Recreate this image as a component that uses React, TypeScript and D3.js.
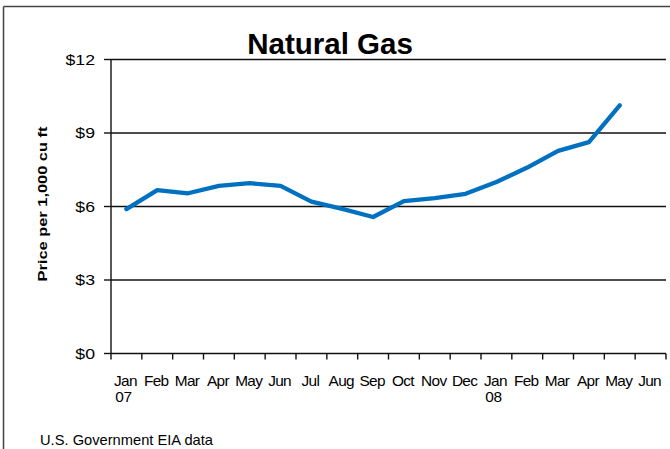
import React from "react";
import * as d3 from "d3";

const months = ["Jan", "Feb", "Mar", "Apr", "May", "Jun", "Jul", "Aug", "Sep", "Oct", "Nov", "Dec", "Jan", "Feb", "Mar", "Apr", "May", "Jun"];
const yearLabels = ["07", "", "", "", "", "", "", "", "", "", "", "", "08", "", "", "", "", ""];
const prices: (number | null)[] = [5.89, 6.67, 6.54, 6.84, 6.95, 6.84, 6.2, 5.9, 5.57, 6.22, 6.34, 6.52, 7.0, 7.59, 8.27, 8.63, 10.13, null];
const yTicks = [0, 3, 6, 9, 12];
const title = "Natural Gas";
const yTitle = "Price per 1,000 cu ft";
const source = "U.S. Government EIA data";

const W = 670, H = 449;
const left = 111, right = 666, top = 59.5, bottom = 353.5;

export default function App() {
  const idx = months.map((_, i) => i);
  const x = d3.scaleBand<number>().domain(idx).range([left, right]).paddingInner(0).paddingOuter(0);
  const y = d3.scaleLinear().domain([0, 12]).range([bottom, top]);
  const cx = (i: number) => (x(i) as number) + x.bandwidth() / 2;
  const line = d3.line<number | null>()
    .defined((d) => d != null)
    .x((_, i) => cx(i))
    .y((d) => y(d as number));
  const font = "'Liberation Sans', Arial, sans-serif";
  const tickEdges = [...idx.map((i) => x(i) as number), right];

  return (
    <svg width={W} height={H} style={{ position: "absolute", left: 0, top: 0 }} fontFamily={font}>
      <rect x={0} y={0} width={W} height={H} fill="#fff" />
      {/* outer frame */}
      <line x1={3.5} y1={6.5} x2={W} y2={6.5} stroke="#444" strokeWidth={1.5} />
      <line x1={3.5} y1={6.5} x2={3.5} y2={H} stroke="#444" strokeWidth={1.5} />

      <text x={330} y={54} textAnchor="middle" fontSize={29.5} fontWeight="bold" fill="#000">{title}</text>

      {/* gridlines */}
      {yTicks.map((t) => (
        <g key={t}>
          <line x1={left} x2={right} y1={y(t)} y2={y(t)} stroke="#111" strokeWidth={1.4} />
          <line x1={left - 7} x2={left} y1={y(t)} y2={y(t)} stroke="#111" strokeWidth={1.4} />
          <text transform={`translate(95,${y(t) + 5.3}) scale(1.22,1)`} textAnchor="end" fontSize={14.5} fill="#000">{"$" + t}</text>
        </g>
      ))}
      <line x1={left} x2={left} y1={top} y2={bottom} stroke="#111" strokeWidth={1.4} />
      {tickEdges.map((e, i) => (
        <line key={i} x1={e} x2={e} y1={bottom} y2={bottom + 6} stroke="#111" strokeWidth={1.4} />
      ))}
      {months.map((m, i) => (
        <g key={i}>
          <text transform={`translate(${cx(i) - 1},385.5) scale(1.1,1)`} textAnchor="middle" fontSize={14} fill="#000" letterSpacing={-0.6}>{m}</text>
          {yearLabels[i] && (
            <text transform={`translate(${cx(i) - 3},402) scale(1.1,1)`} textAnchor="middle" fontSize={14} fill="#000" letterSpacing={-0.4}>{yearLabels[i]}</text>
          )}
        </g>
      ))}

      <text transform={`translate(47,204) rotate(-90)`} textAnchor="middle" fontSize={13} fontWeight="bold" fill="#000" textLength={155} lengthAdjust="spacingAndGlyphs">{yTitle}</text>

      <path d={line(prices) || ""} fill="none" stroke="#0070C0" strokeWidth={4.3} strokeLinejoin="round" strokeLinecap="round" />

      <text x={40} y={445} fontSize={15} fill="#000" textLength={173} lengthAdjust="spacingAndGlyphs">{source}</text>
    </svg>
  );
}
